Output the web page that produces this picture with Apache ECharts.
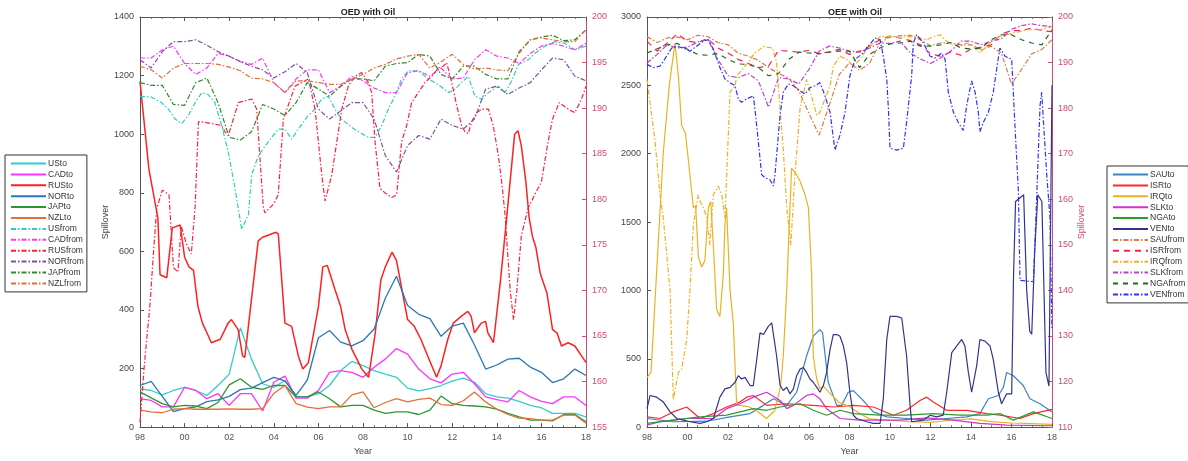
<!DOCTYPE html>
<html><head><meta charset="utf-8">
<script src="https://cdn.jsdelivr.net/npm/echarts@6/dist/echarts.min.js"></script>
<style>html,body{margin:0;padding:0;background:#fff}#c{width:1188px;height:461px}</style>
</head><body><div id="c"></div><script>
// ---------- DATA ----------
const halfYears = [1998,1998.5,1999,1999.5,2000,2000.5,2001,2001.5,2002,2002.5,2003,2003.5,2004,2004.5,2005,2005.5,2006,2006.5,2007,2007.5,2008,2008.5,2009,2009.5,2010,2010.5,2011,2011.5,2012,2012.5,2013,2013.5,2014,2014.5,2015,2015.5,2016,2016.5,2017,2017.5,2018];
const xTickYears = [1998,2000,2002,2004,2006,2008,2010,2012,2014,2016,2018];

// Left panel (OED with Oil) - "to" series, left axis
const usTo  = [131,125,110,125,136,125,108,142,181,339,232,148,136,159,103,103,114,142,193,224,210,193,181,170,133,124,131,142,157,167,153,114,103,99,88,74,66,47,47,47,35];
const cadTo = [97,91,69,69,136,125,97,114,74,114,114,55,153,174,99,99,125,187,193,187,170,204,232,268,249,198,165,151,181,187,148,103,94,86,125,103,88,80,103,103,74];
const norTo = [142,156,105,53,63,69,87,93,105,128,133,152,170,158,108,160,305,330,290,277,295,335,440,515,415,385,370,310,345,355,280,198,212,232,235,205,187,152,165,198,176];
const japTo = [120,100,80,69,74,72,63,84,144,165,136,129,142,142,103,103,120,97,69,74,74,58,47,52,52,43,58,106,80,74,72,69,61,47,35,24,24,21,43,43,18];
const nzlTo = [58,52,49,61,63,61,61,61,62,61,61,63,115,142,80,68,63,69,69,110,120,66,84,97,86,95,99,77,74,90,120,86,61,43,31,29,24,24,41,41,13];
const rusTo = [[1998.0,1180],[1998.4,880],[1998.8,715],[1998.9,520],[1999.2,510],[1999.45,680],[1999.8,690],[2000.0,580],[2000.2,547],[2000.4,535],[2000.6,411],[2000.8,355],[2001.0,322],[2001.2,288],[2001.6,300],[2001.95,355],[2002.1,367],[2002.4,333],[2002.6,243],[2002.7,238],[2003.3,636],[2003.5,648],[2004.1,665],[2004.2,660],[2004.5,355],[2004.8,344],[2005.1,243],[2005.3,198],[2005.55,220],[2006.0,411],[2006.2,547],[2006.4,552],[2006.75,468],[2007.0,411],[2007.2,333],[2007.5,266],[2007.95,198],[2008.25,170],[2008.55,322],[2008.8,502],[2009.0,547],[2009.3,597],[2009.5,569],[2009.75,468],[2010.0,367],[2010.3,344],[2010.6,299],[2010.9,243],[2011.3,170],[2011.5,209],[2011.8,299],[2012.05,355],[2012.4,378],[2012.7,395],[2012.85,378],[2013.0,322],[2013.3,355],[2013.5,361],[2013.6,322],[2013.85,288],[2014.15,490],[2014.4,681],[2014.8,1000],[2014.95,1012],[2015.1,960],[2015.3,840],[2015.45,715],[2015.6,650],[2015.75,614],[2015.95,524],[2016.25,457],[2016.5,333],[2016.7,322],[2016.9,277],[2017.2,288],[2017.5,277],[2017.8,243],[2018.0,221]];
// Left panel - "from" series, right axis
const usFrom = [[1998.0,191.3],[1998.52,191.2],[1998.97,190.6],[1999.27,189.9],[1999.57,188.8],[1999.87,188.3],[2000.17,189.2],[2000.47,190.6],[2000.77,191.7],[2001.06,191.5],[2001.36,190.6],[2001.66,188.1],[2001.96,185.2],[2002.26,181.2],[2002.56,176.7],[2002.86,178.3],[2003.01,182.7],[2003.31,184.8],[2003.75,186.3],[2004.2,187.7],[2004.5,187.7],[2004.8,186.6],[2005.1,187.7],[2005.55,189.2],[2005.85,189.9],[2006.15,191.0],[2006.45,191.3],[2006.74,189.9],[2007.04,188.8],[2007.49,187.9],[2007.94,187.2],[2008.24,186.8],[2008.54,186.8],[2008.84,188.1],[2009.14,189.9],[2009.43,191.3],[2009.73,193.2],[2010.03,194.1],[2010.48,194.1],[2010.93,193.2],[2011.23,192.8],[2011.53,192.3],[2011.83,191.7],[2012.13,192.1],[2012.42,192.8],[2012.72,193.5],[2013.02,191.3],[2013.32,191.0],[2013.62,191.7],[2014.07,192.4],[2014.37,191.7],[2014.67,193.0],[2014.97,194.8],[2015.41,195.3],[2015.71,196.0],[2016.16,196.8],[2016.61,197.3],[2017.06,197.1],[2017.51,196.4],[2018.0,196.8]];
const cadFrom = [195.5,195.5,196.4,196.8,194.9,193.7,194.4,196.0,195.7,195.1,194.8,195.5,192.8,191.7,193.2,194.2,194.2,191.7,192.4,193.5,193.0,192.2,191.7,191.7,193.9,194.1,193.5,194.4,193.2,193.3,195.3,196.4,195.7,195.5,194.9,196.0,196.8,197.1,196.8,196.4,197.1];
const rusFrom = [[1998.0,155.5],[1998.2,162],[1998.45,168.5],[1998.6,174],[1998.75,179],[1999.0,181],[1999.3,180.5],[1999.5,172.5],[1999.7,172],[1999.85,177],[2000.1,175],[2000.3,174],[2000.47,179.1],[2000.62,188.5],[2000.77,188.5],[2001.66,188.1],[2001.81,187.4],[2001.96,187.0],[2002.41,190.6],[2003.01,191.0],[2003.23,189.9],[2003.53,179.1],[2003.6,178.5],[2004.0,179.5],[2004.2,180.5],[2004.43,188.8],[2004.95,192.4],[2005.55,193.2],[2005.85,189.9],[2006.15,182.7],[2006.3,179.8],[2006.6,182.7],[2007.05,189.9],[2007.34,192.4],[2007.64,193.5],[2007.94,193.9],[2008.24,192.8],[2008.39,191.7],[2008.54,186.3],[2008.76,181.2],[2008.99,180.7],[2009.29,180.2],[2009.51,180.5],[2009.73,186.3],[2009.96,188.1],[2010.18,190.6],[2010.48,191.7],[2010.78,192.8],[2011.08,193.5],[2011.38,194.4],[2011.6,194.6],[2011.75,195.0],[2011.98,192.8],[2012.2,190.3],[2012.42,188.1],[2012.57,187.4],[2012.72,187.2],[2012.87,188.5],[2013.1,189.5],[2013.32,189.9],[2013.62,189.9],[2013.84,188.1],[2014.07,184.8],[2014.22,181.9],[2014.37,178.3],[2014.6,170],[2014.75,166.8],[2014.9,170],[2015.1,176],[2015.4,179],[2015.7,180.5],[2016.0,181.9],[2016.3,186.3],[2016.5,188.8],[2016.8,190.6],[2017.2,189.9],[2017.5,189.5],[2017.8,191.0],[2018.0,192.4]];
const norFrom = [195.3,194.4,196.2,197.3,197.3,197.5,196.9,196.2,195.7,195.1,194.6,194.2,193.3,194.0,194.9,193.9,189.9,188.8,189.7,190.6,190.6,188.8,184.8,183.0,185.9,187.0,186.6,188.8,188.1,187.7,188.8,192.1,192.4,191.5,192.2,192.8,194.2,195.5,195.3,193.5,193.0];
const japFrom = [192.8,192.5,192.5,190.4,190.3,192.8,193.3,190.6,186.8,186.5,187.4,190.4,189.9,189.2,190.6,192.8,192.1,191.3,192.4,193.2,193.2,193.0,194.6,194.9,195.0,195.9,195.7,193.7,193.2,194.6,194.6,193.7,193.2,193.2,196.2,197.5,197.8,198.0,197.4,197.5,198.6];
const nzlFrom = [194.6,194.2,193.3,194.4,194.9,194.9,194.9,194.8,194.5,194.1,193.3,193.2,192.8,191.7,193.0,193.0,192.8,192.6,192.6,193.2,193.7,194.4,194.8,195.4,195.7,195.9,194.4,195.1,195.9,194.8,194.3,194.4,194.2,194.1,196.0,197.5,197.7,197.5,197.3,197.3,198.6];

// Right panel (OEE with Oil) - "to" series, left axis
const sauTo = [[1998.0,63],[1999.3,39],[2000.95,43],[2002.1,75],[2003.09,99],[2003.75,159],[2004.24,207],[2004.9,159],[2005.39,255],[2005.88,520],[2006.21,665],[2006.54,713],[2006.67,689],[2006.95,328],[2007.37,159],[2007.61,159],[2007.94,255],[2008.19,267],[2008.6,207],[2009.18,111],[2009.84,75],[2010.82,63],[2011.81,51],[2012.8,63],[2013.79,75],[2014.44,99],[2014.86,207],[2015.35,231],[2015.6,291],[2015.76,400],[2016.09,376],[2016.58,304],[2016.91,207],[2017.41,171],[2018.0,111]];
const isrTo = [[1998.0,75],[1998.64,63],[1999.3,111],[1999.96,147],[2000.62,63],[2001.28,99],[2001.93,147],[2002.59,183],[2002.92,219],[2003.25,231],[2003.91,159],[2004.9,171],[2006.21,159],[2007.2,147],[2008.19,159],[2009.18,147],[2010.16,87],[2010.82,123],[2011.48,195],[2011.81,219],[2012.14,183],[2012.8,123],[2013.79,123],[2014.77,99],[2015.43,87],[2016.42,63],[2017.08,99],[2018.0,130]];
const irqTo = [[1998.0,364],[1998.2,400],[1998.5,1200],[1998.8,2000],[1999.1,2500],[1999.38,2810],[1999.55,2569],[1999.71,2207],[1999.9,2150],[2000.12,1846],[2000.29,1605],[2000.4,1620],[2000.54,1243],[2000.7,1171],[2000.86,1219],[2001.03,1605],[2001.15,1650],[2001.28,1316],[2001.44,858],[2001.6,810],[2001.77,1123],[2001.85,1484],[2001.93,1605],[2002.1,1002],[2002.26,761],[2002.43,159],[2002.59,159],[2003.0,150],[2003.5,110],[2003.9,63],[2004.3,120],[2004.6,300],[2004.73,520],[2004.9,1003],[2005.06,1605],[2005.14,1894],[2005.39,1846],[2005.56,1798],[2005.8,1701],[2005.97,1605],[2006.13,1123],[2006.21,520],[2006.38,352],[2006.54,280],[2006.71,300],[2007.0,250],[2007.5,180],[2008.0,150],[2008.5,100],[2009.0,60],[2010.0,50],[2011.0,40],[2012.0,35],[2013.0,50],[2014.0,60],[2015.0,40],[2016.0,30],[2017.0,25],[2018.0,20]];
const slkTo = [[1998.0,15],[1998.64,39],[1999.3,51],[1999.96,63],[2001.28,63],[2001.93,135],[2002.59,171],[2003.25,219],[2003.91,255],[2004.57,195],[2004.9,135],[2005.23,159],[2005.88,231],[2006.21,243],[2006.54,207],[2006.87,135],[2007.53,63],[2008.52,51],[2010.49,51],[2011.81,67],[2013.13,51],[2014.44,27],[2015.76,15],[2018.0,10]];
const ngaTo = [[1998.0,27],[1999.3,51],[2000.62,75],[2001.93,87],[2002.59,111],[2003.25,135],[2003.91,123],[2004.57,147],[2005.56,171],[2006.21,123],[2006.87,87],[2007.53,123],[2008.19,99],[2009.51,87],[2010.82,87],[2012.14,99],[2013.46,87],[2014.77,87],[2015.43,99],[2016.09,51],[2017.08,111],[2018.0,63]];
const venTo = [[1998.0,135],[1998.15,231],[1998.48,219],[1998.81,183],[1999.14,111],[1999.47,63],[1999.79,51],[2000.12,39],[2000.62,27],[2000.95,39],[2001.28,63],[2001.6,219],[2001.85,280],[2002.1,291],[2002.35,328],[2002.51,376],[2002.67,352],[2002.84,364],[2003.09,304],[2003.25,304],[2003.42,496],[2003.58,689],[2003.75,677],[2003.99,737],[2004.16,762],[2004.24,749],[2004.4,520],[2004.57,304],[2004.73,268],[2004.9,292],[2005.06,243],[2005.23,280],[2005.39,376],[2005.56,424],[2005.72,436],[2005.88,400],[2006.05,352],[2006.21,328],[2006.38,292],[2006.54,255],[2006.71,304],[2006.87,400],[2007.04,569],[2007.2,677],[2007.37,677],[2007.53,665],[2007.7,593],[2007.86,472],[2008.02,255],[2008.19,87],[2008.35,63],[2008.85,39],[2009.18,27],[2009.51,27],[2009.67,207],[2009.84,641],[2010.0,810],[2010.33,810],[2010.58,798],[2010.82,520],[2010.99,159],[2011.07,39],[2011.65,51],[2011.98,87],[2012.3,75],[2012.63,87],[2012.8,255],[2013.05,545],[2013.29,593],[2013.54,641],[2013.7,593],[2013.87,400],[2014.03,255],[2014.28,448],[2014.44,641],[2014.69,629],[2014.94,593],[2015.1,496],[2015.35,255],[2015.51,171],[2015.76,243],[2016.01,243],[2016.1,1100],[2016.2,1650],[2016.6,1700],[2016.75,1000],[2016.9,700],[2017.0,680],[2017.15,1300],[2017.3,1700],[2017.5,1650],[2017.7,400],[2017.85,300],[2018.0,2500]];
// Right panel - "from" series, right axis
const sauFrom = [195.7,194.4,195.4,195.6,195.0,196.0,195.7,194.4,193.9,192.1,191.4,190.5,188.9,187.6,186.6,183.8,178.8,174.1,180.6,187.4,189.9,188.3,189.9,194.3,195.6,195.9,196.0,195.0,193.7,194.3,194.3,193.9,193.9,192.9,193.6,192.1,185.3,188.5,191.9,192.9,195.0];
const isrFrom = [194.7,192.5,194.3,196.3,194.7,194.4,195.2,193.2,192.1,190.7,189.8,188.9,189.2,192.7,192.5,192.3,192.7,192.0,192.3,192.9,191.8,192.5,193.6,195.0,195.8,195.4,194.8,193.9,191.9,191.4,192.3,191.6,193.0,193.4,193.9,196.3,197.0,197.0,197.6,197.0,196.8];
const irqFrom = [[1998.0,186.3],[1998.4,172.6],[1998.64,161.0],[1998.8,156.0],[1999.14,140.0],[1999.3,116.0],[1999.55,122.0],[1999.71,122.7],[1999.96,129.2],[2000.12,140.0],[2000.29,154.5],[2000.53,161.0],[2000.62,159.6],[2000.78,158.2],[2000.95,156.0],[2001.1,150.0],[2001.28,161.0],[2001.52,162.9],[2001.69,161.0],[2001.85,156.0],[2002.1,183.5],[2002.35,184.9],[2002.43,187.1],[2003.0,190.0],[2003.3,192.0],[2003.75,193.5],[2004.2,193.2],[2004.4,190.0],[2004.57,179.8],[2004.73,171.0],[2004.9,158.2],[2005.1,150.0],[2005.3,165.0],[2005.56,180.0],[2005.88,186.3],[2006.21,181.3],[2006.38,178.4],[2006.54,179.1],[2006.79,182.0],[2007.04,184.9],[2007.2,189.2],[2007.53,191.4],[2007.86,190.7],[2008.19,189.2],[2008.52,190.7],[2008.85,192.9],[2009.18,194.3],[2009.51,195.7],[2009.84,195.7],[2010.16,195.7],[2010.49,195.4],[2010.82,195.7],[2011.15,195.7],[2011.48,195.4],[2011.81,195.0],[2012.14,195.7],[2012.47,196.1],[2012.8,194.7],[2013.13,193.9],[2013.46,193.6],[2013.79,194.3],[2014.12,193.6],[2014.44,192.1],[2014.77,193.6],[2015.1,195.0],[2015.43,195.7],[2015.76,196.1],[2016.09,196.5],[2016.42,196.8],[2016.75,197.2],[2017.08,197.2],[2017.41,197.2],[2017.74,197.6],[2018.0,197.9]];
const slkFrom = [189.9,191.8,193.9,193.2,193.4,194.5,195.2,190.7,187.1,186.7,187.6,186.0,180.2,186.7,186.4,185.3,188.5,192.5,193.6,193.2,192.5,192.3,193.2,194.3,194.2,194.7,192.1,190.8,189.8,191.0,192.5,194.7,194.7,193.9,194.7,195.2,197.3,198.1,198.5,198.1,197.9];
const ngaFrom = [192.1,193.0,193.9,194.2,192.9,191.8,191.6,192.0,190.7,189.7,189.6,188.9,187.1,187.6,190.7,192.3,192.1,191.9,192.3,192.5,192.5,188.9,191.8,193.2,194.1,194.3,194.7,193.6,193.6,193.9,194.4,193.2,193.0,193.2,195.0,196.1,196.1,195.0,194.3,193.9,197.2];
const venFrom = [[1998.0,189.6],[1998.31,188.9],[1998.64,189.2],[1998.97,191.4],[1999.22,193.2],[1999.47,193.6],[1999.79,193.2],[2000.12,192.5],[2000.45,193.6],[2000.78,194.7],[2001.03,195.0],[2001.28,192.9],[2001.6,188.9],[2001.85,186.4],[2002.1,185.6],[2002.35,184.9],[2002.51,182.0],[2002.67,181.3],[2002.92,182.0],[2003.25,182.7],[2003.33,179.8],[2003.5,172.6],[2003.66,165.4],[2003.83,164.7],[2004.07,164.3],[2004.24,162.9],[2004.32,165.4],[2004.57,178.4],[2004.73,183.5],[2004.98,185.3],[2005.23,184.9],[2005.56,183.8],[2005.8,183.1],[2006.05,184.5],[2006.3,184.9],[2006.54,185.6],[2006.79,182.7],[2007.04,179.1],[2007.28,170.8],[2007.53,174.1],[2007.78,179.1],[2008.02,187.1],[2008.27,190.7],[2008.6,191.8],[2008.93,193.6],[2009.26,195.4],[2009.51,195.0],[2009.67,191.4],[2009.84,186.4],[2009.92,179.9],[2010.0,171.2],[2010.33,170.8],[2010.66,171.2],[2010.82,176.9],[2011.07,187.1],[2011.15,194.3],[2011.32,196.1],[2011.65,194.3],[2011.98,191.4],[2012.22,191.0],[2012.55,192.1],[2012.72,190.7],[2012.88,183.5],[2013.13,179.1],[2013.37,176.9],[2013.62,175.1],[2013.79,180.6],[2014.03,186.0],[2014.2,183.5],[2014.36,179.1],[2014.44,174.8],[2014.61,176.9],[2014.86,179.1],[2015.1,183.5],[2015.35,191.0],[2015.43,193.2],[2015.68,191.4],[2016.01,190.7],[2016.17,176.2],[2016.34,161.8],[2016.42,142.2],[2017.08,141.9],[2017.24,160],[2017.41,180.6],[2017.49,183.5],[2017.74,165.4],[2017.9,156],[2018.0,131.5]];

// ---------- CHART ----------
const onGrid = vals => halfYears.map((x, i) => [x, vals[i]]);
const FONT = 'Liberation Sans, Arial, sans-serif';
const PINK = '#cf4a72';
const DD = [5, 2, 1.5, 2];

function line(name, data, color, xi, yi, type, width) {
  return { name, type: 'line', data, xAxisIndex: xi, yAxisIndex: yi, showSymbol: false, symbol: 'none',
    animation: false, lineStyle: { color, width: width || 1.2, type: type || 'solid' }, itemStyle: { color } };
}

const leftSeries = [
  line('USto', onGrid(usTo), '#33CCCC', 0, 0, 'solid', 1.3),
  line('CADto', onGrid(cadTo), '#FF33FF', 0, 0, 'solid', 1.3),
  line('RUSto', rusTo, '#FF2020', 0, 0, 'solid', 1.5),
  line('NORto', onGrid(norTo), '#2878B5', 0, 0, 'solid', 1.3),
  line('JAPto', onGrid(japTo), '#2E962E', 0, 0, 'solid', 1.3),
  line('NZLto', onGrid(nzlTo), '#E2703A', 0, 0, 'solid', 1.3),
  line('USfrom', usFrom, '#33CCBB', 0, 1, DD),
  line('CADfrom', onGrid(cadFrom), '#FF33FF', 0, 1, DD),
  line('RUSfrom', rusFrom, '#FF2040', 0, 1, DD),
  line('NORfrom', onGrid(norFrom), '#7F4F9F', 0, 1, DD),
  line('JAPfrom', onGrid(japFrom), '#2E8B2E', 0, 1, DD),
  line('NZLfrom', onGrid(nzlFrom), '#E86A3A', 0, 1, DD)
];
const rightSeries = [
  line('SAUto', sauTo, '#3A84C4', 2, 2),
  line('ISRto', isrTo, '#FF2828', 2, 2),
  line('IRQto', irqTo, '#EDB120', 2, 2),
  line('SLKto', slkTo, '#CC33CC', 2, 2),
  line('NGAto', ngaTo, '#2E9A2E', 2, 2),
  line('VENto', venTo, '#33338F', 2, 2),
  line('SAUfrom', onGrid(sauFrom), '#DB7A45', 2, 3, DD),
  line('ISRfrom', onGrid(isrFrom), '#FF2050', 2, 3, [6, 5]),
  line('IRQfrom', irqFrom, '#EDB120', 2, 3, DD),
  line('SLKfrom', onGrid(slkFrom), '#BB40CC', 2, 3, DD),
  line('NGAfrom', onGrid(ngaFrom), '#1E6B1E', 2, 3, [5, 5]),
  line('VENfrom', venFrom, '#3030FF', 2, 3, DD)
];

const yearLabel = v => xTickYears.indexOf(v) >= 0 ? String(v % 100).padStart(2, '0') : '';
function xAx(gi, pos) {
  const bottom = pos === 'bottom';
  return { type: 'value', gridIndex: gi, position: pos, min: 1998, max: 2018, interval: 2,
    name: bottom ? 'Year' : '', nameLocation: 'middle', nameGap: 18,
    nameTextStyle: { fontFamily: FONT, fontSize: 9, color: '#444' },
    axisLine: { show: true, onZero: false, lineStyle: { color: '#555', width: 1 } },
    axisTick: { show: true, inside: true, length: 4, lineStyle: { color: '#555' } },
    minorTick: { show: true, splitNumber: 4, length: 2, lineStyle: { color: '#777' } },
    axisLabel: { show: bottom, formatter: yearLabel, fontFamily: FONT, fontSize: 9, color: '#555', margin: 6 },
    splitLine: { show: false } };
}
function yAx(gi, pos, min, max, interval, color, name) {
  return { type: 'value', gridIndex: gi, position: pos, min, max, interval,
    name: name || '', nameLocation: 'middle', nameGap: 25,
    nameTextStyle: { fontFamily: FONT, fontSize: 9, color },
    axisLine: { show: true, onZero: false, lineStyle: { color: pos === 'right' ? PINK : '#555', width: 1 } },
    axisTick: { show: true, inside: true, length: 4, lineStyle: { color: pos === 'right' ? PINK : '#555' } },
    axisLabel: { fontFamily: FONT, fontSize: 9, color, margin: 6, formatter: v => String(v) },
    splitLine: { show: false } };
}

const legendBase = { orient: 'vertical', itemWidth: 35, itemHeight: 9, itemGap: 1.9,
  backgroundColor: '#fff', borderColor: '#333', borderWidth: 1, padding: [4, 3, 4, 5],
  itemStyle: { opacity: 0 },
  textStyle: { fontFamily: FONT, fontSize: 8.5, color: '#333', padding: [0, 0, 0, -3] } };

const option = {
  backgroundColor: '#fff',
  animation: false,
  title: [
    { text: 'OED with Oil', left: 363, top: 3, textAlign: 'center', textStyle: { fontFamily: FONT, fontSize: 9, fontWeight: 'bold', color: '#222' } },
    { text: 'OEE with Oil', left: 850, top: 3, textAlign: 'center', textStyle: { fontFamily: FONT, fontSize: 9, fontWeight: 'bold', color: '#222' } }
  ],
  grid: [
    { left: 140, right: 602, top: 17, bottom: 29 },
    { left: 647, right: 136, top: 17, bottom: 29 }
  ],
  xAxis: [xAx(0, 'bottom'), xAx(0, 'top'), xAx(1, 'bottom'), xAx(1, 'top')],
  yAxis: [
    yAx(0, 'left', 0, 1400, 200, '#444', 'Spillover'),
    yAx(0, 'right', 155, 200, 5, PINK),
    yAx(1, 'left', 0, 3000, 500, '#444'),
    yAx(1, 'right', 110, 200, 10, PINK, 'Spillover')
  ],
  legend: [
    Object.assign({}, legendBase, { left: 5, top: 155, data: leftSeries.map(s => s.name) }),
    Object.assign({}, legendBase, { left: 1107, top: 166, data: rightSeries.map(s => s.name) })
  ],
  series: leftSeries.concat(rightSeries)
};
const chart = echarts.init(document.getElementById('c'), null, { renderer: 'canvas' });
chart.setOption(option);
</script></body></html>
